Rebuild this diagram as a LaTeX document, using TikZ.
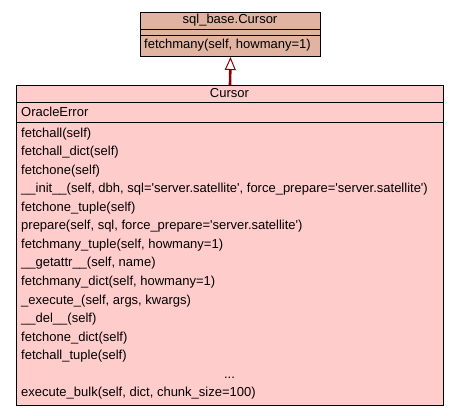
\documentclass[tikz,border=0pt]{standalone}
\usepackage{fontspec}
\setmainfont{Liberation Sans}
\usetikzlibrary{arrows.meta}
\definecolor{basefill}{RGB}{224,180,160}
\definecolor{curfill}{RGB}{255,204,204}
\definecolor{arrowred}{RGB}{139,0,0}
\newcommand{\sq}{\textquotesingle}
\tikzset{
  classbox/.style={draw=black, line width=1pt, rectangle, inner sep=0pt, anchor=north west},
  member/.style={anchor=base west, inner sep=0pt, font=\fontsize{13}{15}\selectfont},
  title/.style={anchor=base, inner sep=0pt, font=\fontsize{13}{15}\selectfont},
  divider/.style={draw=black, line width=0.8pt},
  inherit/.style={draw=arrowred, line width=2.6pt, -{Triangle[open, length=13pt, width=11pt, line width=1pt, fill=white]}}
}
\begin{document}
\begin{tikzpicture}[x=1pt, y=-1pt]
\useasboundingbox (0,0) rectangle (459,416);
% base class
\node[classbox, fill=basefill, minimum width=180pt, minimum height=44pt] (base) at (140,12) {};
\draw[divider] (140,29) -- (320,29);
\draw[divider] (140,35) -- (320,35);
\node[title] (basename) at (230,23) {sql\_base.Cursor};
\node[member] (basem1) at (144,48.5) {fetchmany(self, howmany=1)};
% Cursor class
\node[classbox, fill=curfill, minimum width=427pt, minimum height=320pt] (cursor) at (16,85) {};
\draw[divider] (16,102) -- (443,102);
\draw[divider] (16,122) -- (443,122);
\node[title] (curname) at (229.5,97) {Cursor};
\node[member] (attr1) at (21,116) {OracleError};
\foreach \t [count=\i from 0] in {
  fetchall(self),
  fetchall\_dict(self),
  fetchone(self),
  {\_\_init\_\_(self, dbh, sql=\sq server.satellite\sq, force\_prepare=\sq server.satellite\sq)},
  fetchone\_tuple(self),
  {prepare(self, sql, force\_prepare=\sq server.satellite\sq)},
  {fetchmany\_tuple(self, howmany=1)},
  {\_\_getattr\_\_(self, name)},
  {fetchmany\_dict(self, howmany=1)},
  {\_execute\_(self, args, kwargs)},
  \_\_del\_\_(self),
  fetchone\_dict(self),
  fetchall\_tuple(self)}
{
  \node[member] (m\i) at (21,137+18.57*\i) {\t};
}
\node[title] (dots) at (229.5,137+18.57*13) {...};
\node[member] (m14) at (21,137+18.57*14) {execute\_bulk(self, dict, chunk\_size=100)};
% inheritance
\draw[inherit] (cursor.north) -- (base.south);
\end{tikzpicture}
\end{document}
